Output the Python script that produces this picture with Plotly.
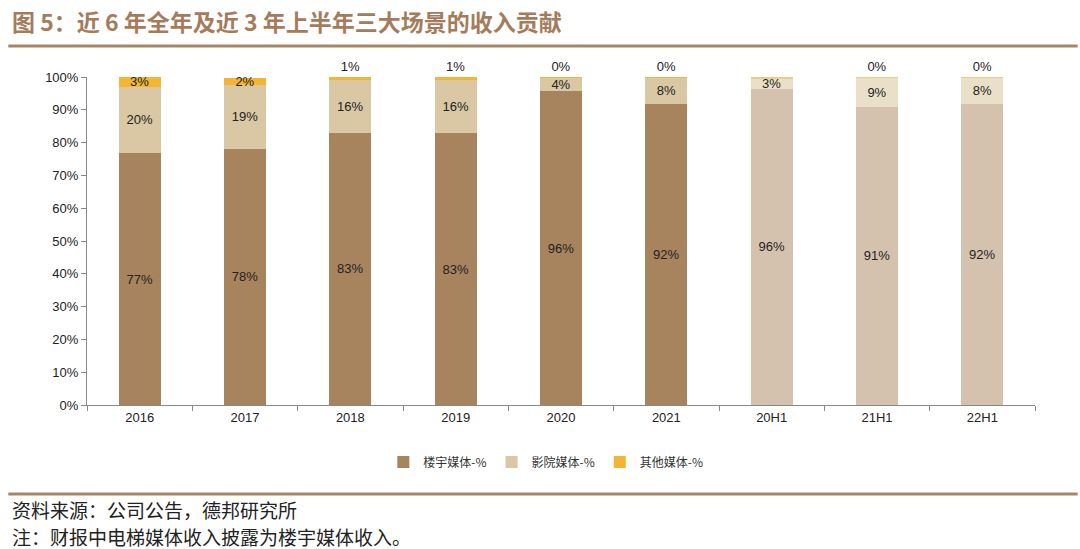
import plotly.graph_objects as go

categories = ["2016", "2017", "2018", "2019", "2020", "2021", "20H1", "21H1", "22H1"]
building = [76.8, 78.2, 83.0, 82.8, 95.6, 91.8, 96.4, 90.9, 91.8]
cinema = [20.2, 19.3, 16.0, 16.4, 4.2, 7.9, 3.2, 8.8, 7.9]
other = [3.0, 2.3, 1.0, 0.8, 0.2, 0.3, 0.4, 0.3, 0.3]
y_ticks = [0, 10, 20, 30, 40, 50, 60, 70, 80, 90, 100]

# full-year bars are darker, half-year bars are faded
c_building = ["#A8845E"] * 6 + ["#D5C2AE"] * 3
c_cinema = ["#D9C8A3"] * 6 + ["#EAE0CA"] * 3
c_other = ["#F2B534"] * 6 + ["#F3CB7E"] * 3

font_cn = "Noto Sans CJK SC"

fig = go.Figure()

fig.add_trace(go.Bar(
    x=categories, y=building, name="楼宇媒体-%",
    marker=dict(color=c_building, line=dict(width=0)),
    texttemplate="%{y:.0f}%", textposition="inside", insidetextanchor="middle",
    textfont=dict(size=13, color="#222"), constraintext="none",
))
fig.add_trace(go.Bar(
    x=categories, y=cinema, name="影院媒体-%",
    marker=dict(color=c_cinema, line=dict(width=0)),
    texttemplate="%{y:.0f}%", textposition="inside", insidetextanchor="middle",
    textfont=dict(size=13, color="#222"), constraintext="none",
))
fig.add_trace(go.Bar(
    x=categories, y=other, name="其他媒体-%",
    marker=dict(color=c_other, line=dict(width=0)),
    texttemplate="%{y:.0f}%",
    textposition=["inside" if v >= 2 else "outside" for v in other],
    insidetextanchor="middle",
    textfont=dict(size=13, color="#222"), constraintext="none",
    cliponaxis=False,
))

fig.update_layout(
    width=1080, height=549,
    barmode="stack", bargap=0.6,
    plot_bgcolor="white", paper_bgcolor="white",
    font=dict(family="Liberation Sans, Arial, " + font_cn, color="#222"),
    margin=dict(l=87, r=45, t=77, b=144),
    showlegend=True,
    legend=dict(
        orientation="h", x=0.484, xanchor="center", y=-0.174, yanchor="middle",
        font=dict(size=12, family=font_cn, color="#333"),
        itemwidth=30, traceorder="normal",
    ),
)

fig.update_yaxes(
    range=[0, 100], tickvals=y_ticks, ticktext=[f"{v}%" for v in y_ticks],
    showgrid=False, zeroline=False,
    showline=True, linecolor="#888", linewidth=1,
    ticks="outside", ticklen=5, tickcolor="#888",
    tickfont=dict(size=13, color="#222"),
)
fig.update_xaxes(
    showgrid=False, showline=True, linecolor="#888", linewidth=1,
    ticks="outside", ticklen=5, tickcolor="#888", tickson="boundaries",
    tickfont=dict(size=13, color="#222"),
)

# header and footer
fig.add_annotation(
    text="<b>图 5：近 6 年全年及近 3 年上半年三大场景的收入贡献</b>",
    xref="paper", yref="paper", x=-0.081, y=1.17, xanchor="left", yanchor="middle",
    showarrow=False, font=dict(size=23, family=font_cn, color="#A47C5B"),
)
fig.add_shape(type="line", xref="paper", yref="paper", x0=-0.083, x1=1.045,
              y0=1.0945, y1=1.0945, line=dict(color="#A58766", width=3))
fig.add_shape(type="line", xref="paper", yref="paper", x0=-0.083, x1=1.045,
              y0=-0.271, y1=-0.271, line=dict(color="#A58766", width=3))
fig.add_annotation(
    text="资料来源：公司公告，德邦研究所",
    xref="paper", yref="paper", x=-0.081, y=-0.32, xanchor="left", yanchor="middle",
    showarrow=False, font=dict(size=19, family=font_cn, color="#222"),
)
fig.add_annotation(
    text="注：财报中电梯媒体收入披露为楼宇媒体收入。",
    xref="paper", yref="paper", x=-0.081, y=-0.40, xanchor="left", yanchor="middle",
    showarrow=False, font=dict(size=19, family=font_cn, color="#222"),
)

fig.write_html("out.html", config={"displayModeBar": False},
               post_script="document.body.style.margin='0';")
